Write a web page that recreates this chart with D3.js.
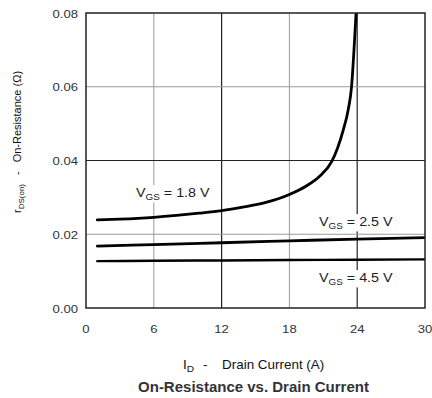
<!DOCTYPE html>
<html>
<head>
<meta charset="utf-8">
<script src="https://cdn.jsdelivr.net/npm/d3@7/dist/d3.min.js"></script>
<style>
  html, body { margin: 0; padding: 0; background: #fff; }
  svg { display: block; font-family: "Liberation Sans", Arial, sans-serif; }
</style>
</head>
<body>
<svg id="chart" width="432" height="398"></svg>
<script>
// Drain current (A) and on-resistance (ohm) per gate voltage
const xTicks = [0, 6, 12, 18, 24, 30];
const yTicks = [0.00, 0.02, 0.04, 0.06, 0.08];
const yTickLabels = ["0.00", "0.02", "0.04", "0.06", "0.08"];

const id18 = [1, 3, 6, 8, 10, 12, 14, 16, 18, 19.5, 20.7, 21.74, 22.24, 22.77, 23.2, 23.5, 23.75, 23.9, 24.0];
const r18  = [0.0239, 0.0241, 0.0246, 0.0251, 0.0257, 0.0264, 0.0274, 0.0287, 0.0308, 0.0331, 0.0358, 0.0397, 0.0432, 0.0483, 0.0537, 0.0600, 0.0718, 0.0800, 0.0860];

const id25 = [1, 6, 12, 18, 24, 30];
const r25  = [0.0168, 0.0172, 0.0177, 0.0182, 0.0187, 0.0191];

const id45 = [1, 6, 12, 18, 24, 30];
const r45  = [0.0127, 0.0128, 0.0129, 0.0130, 0.0131, 0.0132];

const series = [
  { name: "1.8", x: id18, y: r18, width: 2.8 },
  { name: "2.5", x: id25, y: r25, width: 2.8 },
  { name: "4.5", x: id45, y: r45, width: 2.4 }
];

const svg = d3.select("#chart");
const m = { left: 86, right: 425, top: 13, bottom: 308 };

const x = d3.scaleLinear().domain([0, 30]).range([m.left, m.right]);
const y = d3.scaleLinear().domain([0, 0.08]).range([m.bottom, m.top]);

// horizontally widened text, anchored at (px, py)
function wideText(px, py, sx, anchor) {
  return svg.append("g")
    .attr("transform", `translate(${px},${py}) scale(${sx},1)`)
    .append("text")
    .attr("x", 0).attr("y", 0)
    .attr("text-anchor", anchor || "start");
}

// grid: lines at 12 A, 24 A and 0.04 ohm are drawn darker
const grid = svg.append("g");
xTicks.slice(1, -1).forEach(v => {
  const dark = v === 12 || v === 24;
  grid.append("line")
    .attr("x1", x(v)).attr("x2", x(v)).attr("y1", m.top).attr("y2", m.bottom)
    .attr("stroke", dark ? "#222" : "#9a9a9a").attr("stroke-width", dark ? 1.2 : 1);
});
yTicks.slice(1, -1).forEach(v => {
  const dark = v === 0.04;
  grid.append("line")
    .attr("x1", m.left).attr("x2", m.right).attr("y1", y(v)).attr("y2", y(v))
    .attr("stroke", dark ? "#222" : "#9a9a9a").attr("stroke-width", dark ? 1.2 : 1);
});

// curves
svg.append("clipPath").attr("id", "plot-clip")
  .append("rect").attr("x", m.left).attr("y", m.top)
  .attr("width", m.right - m.left).attr("height", m.bottom - m.top);

const line = d3.line().curve(d3.curveMonotoneX);
series.forEach(s => {
  const pts = s.x.map((v, i) => [x(v), y(s.y[i])]);
  svg.append("path")
    .attr("d", line(pts))
    .attr("fill", "none")
    .attr("stroke", "#000")
    .attr("stroke-width", s.width)
    .attr("stroke-linecap", "round")
    .attr("clip-path", "url(#plot-clip)");
});

// curve labels on white backing
function vgsLabel(px, py, val) {
  const t = wideText(px, py, 1.1)
    .attr("font-size", 13).attr("fill", "#222");
  t.append("tspan").text("V");
  t.append("tspan").text("GS").attr("font-size", 9).attr("dy", 3);
  t.append("tspan").text(" = " + val + " V").attr("dy", -3);
  const b = t.node().getBBox();
  d3.select(t.node().parentNode).insert("rect", "text")
    .attr("x", b.x - 1.5).attr("y", b.y)
    .attr("width", b.width + 3).attr("height", b.height + 1)
    .attr("fill", "#fff");
}
vgsLabel(136, 196.5, "1.8");
vgsLabel(319, 225.5, "2.5");
vgsLabel(319, 281.5, "4.5");

// frame
svg.append("rect")
  .attr("x", m.left).attr("y", m.top)
  .attr("width", m.right - m.left).attr("height", m.bottom - m.top)
  .attr("fill", "none").attr("stroke", "#222").attr("stroke-width", 1.5);

// tick labels
xTicks.forEach(v => {
  wideText(x(v), 332.5, 1.14, "middle")
    .attr("font-size", 11.5).attr("fill", "#333")
    .text(d3.format("d")(v));
});
yTicks.forEach((v, i) => {
  wideText(m.left - 8, y(v) + 4.5, 1.14, "end")
    .attr("font-size", 11.5).attr("fill", "#333")
    .text(yTickLabels[i]);
});

// x title
wideText(183, 369, 1.12).attr("font-size", 12).attr("fill", "#111")
  .call(t => {
    t.append("tspan").text("I");
    t.append("tspan").text("D").attr("font-size", 9).attr("dy", 3);
  });
wideText(203, 369, 1.12).attr("font-size", 12).attr("fill", "#111").text("-");
wideText(222, 369, 1.12).attr("font-size", 12).attr("fill", "#111").text("Drain Current (A)");

// chart title
svg.append("text")
  .attr("x", 253.5).attr("y", 391.5)
  .attr("text-anchor", "middle").attr("font-size", 15)
  .attr("font-weight", "bold")
  .attr("fill", "#333")
  .text("On-Resistance vs. Drain Current");

// y title (rotated)
const yt = svg.append("text")
  .attr("transform", "translate(21,213) rotate(-90)")
  .attr("text-anchor", "start").attr("font-size", 11).attr("fill", "#111");
yt.append("tspan").text("r");
yt.append("tspan").text("DS(on)").attr("font-size", 8).attr("dy", 3);
yt.append("tspan").text("-").attr("dy", -3).attr("dx", 9);
yt.append("tspan").text("On-Resistance (\u03A9)").attr("dx", 9);
</script>
</body>
</html>
